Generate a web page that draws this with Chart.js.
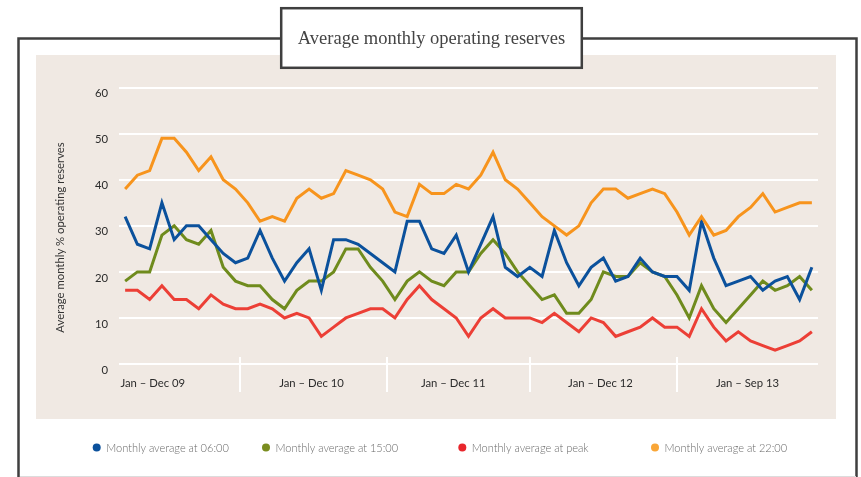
<!DOCTYPE html>
<html><head><meta charset="utf-8">
<script src="https://cdn.jsdelivr.net/npm/chart.js@4"></script>
<style>html,body{margin:0;padding:0;background:#fff}canvas{display:block}</style>
</head><body>
<canvas id="c" width="861" height="477"></canvas>
<script>
// ---- data ----
const monthNames = ['Jan','Feb','Mar','Apr','May','Jun','Jul','Aug','Sep','Oct','Nov','Dec'];
const yearSuffixes = ['09','10','11','12','13'];
const monthsInLastYear = 9;
const categories = [];
yearSuffixes.forEach((y, yi) => {
  const n = yi === yearSuffixes.length - 1 ? monthsInLastYear : 12;
  for (let m = 0; m < n; m++) categories.push(monthNames[m] + ' ' + y);
});

const avg0600 = [32,26,25,35,27,30,30,27,24,22,23,29,23,18,22,25,16,27,27,26,24,22,20,31,31,25,24,28,20,26,32,21,19,21,19,29,22,17,21,23,18,19,23,20,19,19,16,31,23,17,18,19,16,18,19,14,21];
const avg1500 = [18,20,20,28,30,27,26,29,21,18,17,17,14,12,16,18,18,20,25,25,21,18,14,18,20,18,17,20,20,24,27,24,20,17,14,15,11,11,14,20,19,19,22,20,19,15,10,17,12,9,12,15,18,16,17,19,16];
const avgPeak = [16,16,14,17,14,14,12,15,13,12,12,13,12,10,11,10,6,8,10,11,12,12,10,14,17,14,12,10,6,10,12,10,10,10,9,11,9,7,10,9,6,7,8,10,8,8,6,12,8,5,7,5,4,3,4,5,7];
const avg2200 = [38,41,42,49,49,46,42,45,40,38,35,31,32,31,36,38,36,37,42,41,40,38,33,32,39,37,37,39,38,41,46,40,38,35,32,30,28,30,35,38,38,36,37,38,37,33,28,32,28,29,32,34,37,33,34,35,35];

const seriesNames = ['Monthly average at 06:00','Monthly average at 15:00','Monthly average at peak','Monthly average at 22:00'];
const yearGroupLabels = ['Jan \u2013 Dec 09','Jan \u2013 Dec 10','Jan \u2013 Dec 11','Jan \u2013 Dec 12','Jan \u2013 Sep 13'];
const yTicks = [0,10,20,30,40,50,60];
const chartTitle = 'Average monthly operating reserves';
const yTitle = 'Average monthly % operating reserves';

// ---- layout helpers (category-index positions) ----
const groupLabelAt = [2.25, 15.2, 26.76, 38.76, 50.75];
const groupSeparatorAt = [9.37, 21.33, 33.0, 45.0];
const legendX = [96.7, 266, 462.3, 655];
const colors = ['#0b519c','#6f8b1d','#ec3f36','#f7941d'];
const legendColors = ['#0b519c','#7a8d1f','#e8262c','#f9a637'];

const decor = {
  id: 'decor',
  beforeDraw(chart) {
    const ctx = chart.ctx;
    ctx.save();
    ctx.fillStyle = '#fff';
    ctx.fillRect(0, 0, chart.width, chart.height);
    // outer frame
    ctx.strokeStyle = '#3f3f3f';
    ctx.lineWidth = 2.5;
    ctx.strokeRect(18.5, 38.5, 838, 480);
    // faint bottom line
    ctx.strokeStyle = '#dcdcdc';
    ctx.lineWidth = 1;
    ctx.beginPath(); ctx.moveTo(20, 476.5); ctx.lineTo(856, 476.5); ctx.stroke();
    // beige panel
    ctx.fillStyle = '#f0e9e3';
    ctx.fillRect(36, 55, 800, 364);
    // title box
    ctx.fillStyle = '#fff';
    ctx.fillRect(280, 7, 303, 62);
    ctx.strokeStyle = '#3f3f3f';
    ctx.lineWidth = 2.5;
    ctx.strokeRect(281.2, 8.2, 300.6, 59.6);
    ctx.fillStyle = '#444';
    ctx.font = '18.5px "Liberation Serif"';
    ctx.textAlign = 'center';
    ctx.textBaseline = 'middle';
    ctx.fillText(chartTitle, 431.5, 39);
    // y title
    ctx.save();
    ctx.translate(60, 237.5);
    ctx.rotate(-Math.PI / 2);
    ctx.fillStyle = '#333';
    ctx.font = '11.3px Lato';
    ctx.fillText(yTitle, 0, 0);
    ctx.restore();
    ctx.restore();
  },
  beforeDatasetsDraw(chart) {
    const ctx = chart.ctx;
    const xs = chart.scales.x;
    const ys = chart.scales.y;
    const y0 = ys.getPixelForValue(0);
    ctx.save();
    ctx.strokeStyle = '#ffffff';
    ctx.lineWidth = 2;
    groupSeparatorAt.forEach(v => {
      const px = Math.round(xs.getPixelForValue(v));
      ctx.beginPath(); ctx.moveTo(px, y0 - 7); ctx.lineTo(px, y0 + 28); ctx.stroke();
    });
    ctx.fillStyle = '#2b2b2b';
    ctx.font = '11.3px Lato';
    ctx.textAlign = 'center';
    ctx.textBaseline = 'middle';
    yearGroupLabels.forEach((t, i) => ctx.fillText(t, xs.getPixelForValue(groupLabelAt[i]), y0 + 19));
    // legend
    ctx.textAlign = 'left';
    ctx.font = '300 11px Lato';
    chart.data.datasets.forEach((ds, i) => {
      const x = legendX[i], y = 447.5;
      ctx.fillStyle = legendColors[i];
      ctx.beginPath(); ctx.arc(x, y, 4, 0, Math.PI * 2); ctx.fill();
      ctx.fillStyle = '#6a6a6a';
      ctx.fillText(ds.label, x + 9.5, y + 0.5);
    });
    ctx.restore();
  }
};

const mk = (i, data, order) => ({
  label: seriesNames[i], data, borderColor: colors[i], backgroundColor: colors[i],
  borderWidth: 3, pointRadius: 0, tension: 0, fill: false, order
});

new Chart(document.getElementById('c'), {
  type: 'line',
  data: {
    labels: categories,
    datasets: [mk(0, avg0600, 1), mk(1, avg1500, 3), mk(2, avgPeak, 2), mk(3, avg2200, 0)]
  },
  plugins: [decor],
  options: {
    responsive: false,
    animation: false,
    events: [],
    layout: { padding: { top: 87.7, right: 43, bottom: 113, left: 0 } },
    plugins: { legend: { display: false }, title: { display: false }, tooltip: { enabled: false } },
    scales: {
      x: {
        type: 'category',
        offset: true,
        grid: { display: false },
        border: { display: false },
        ticks: { display: false },
        afterFit: s => { s.height = 0; }
      },
      y: {
        min: 0, max: 60,
        afterFit: s => { s.width = 119; },
        afterBuildTicks: s => { s.ticks = yTicks.map(v => ({ value: v })); },
        grid: { color: '#ffffff', lineWidth: 2, drawTicks: false },
        border: { display: false },
        ticks: { color: '#2b2b2b', font: { family: 'Lato', size: 11.3 }, padding: 11, labelOffset: 6 }
      }
    }
  }
});
</script>
</body></html>
